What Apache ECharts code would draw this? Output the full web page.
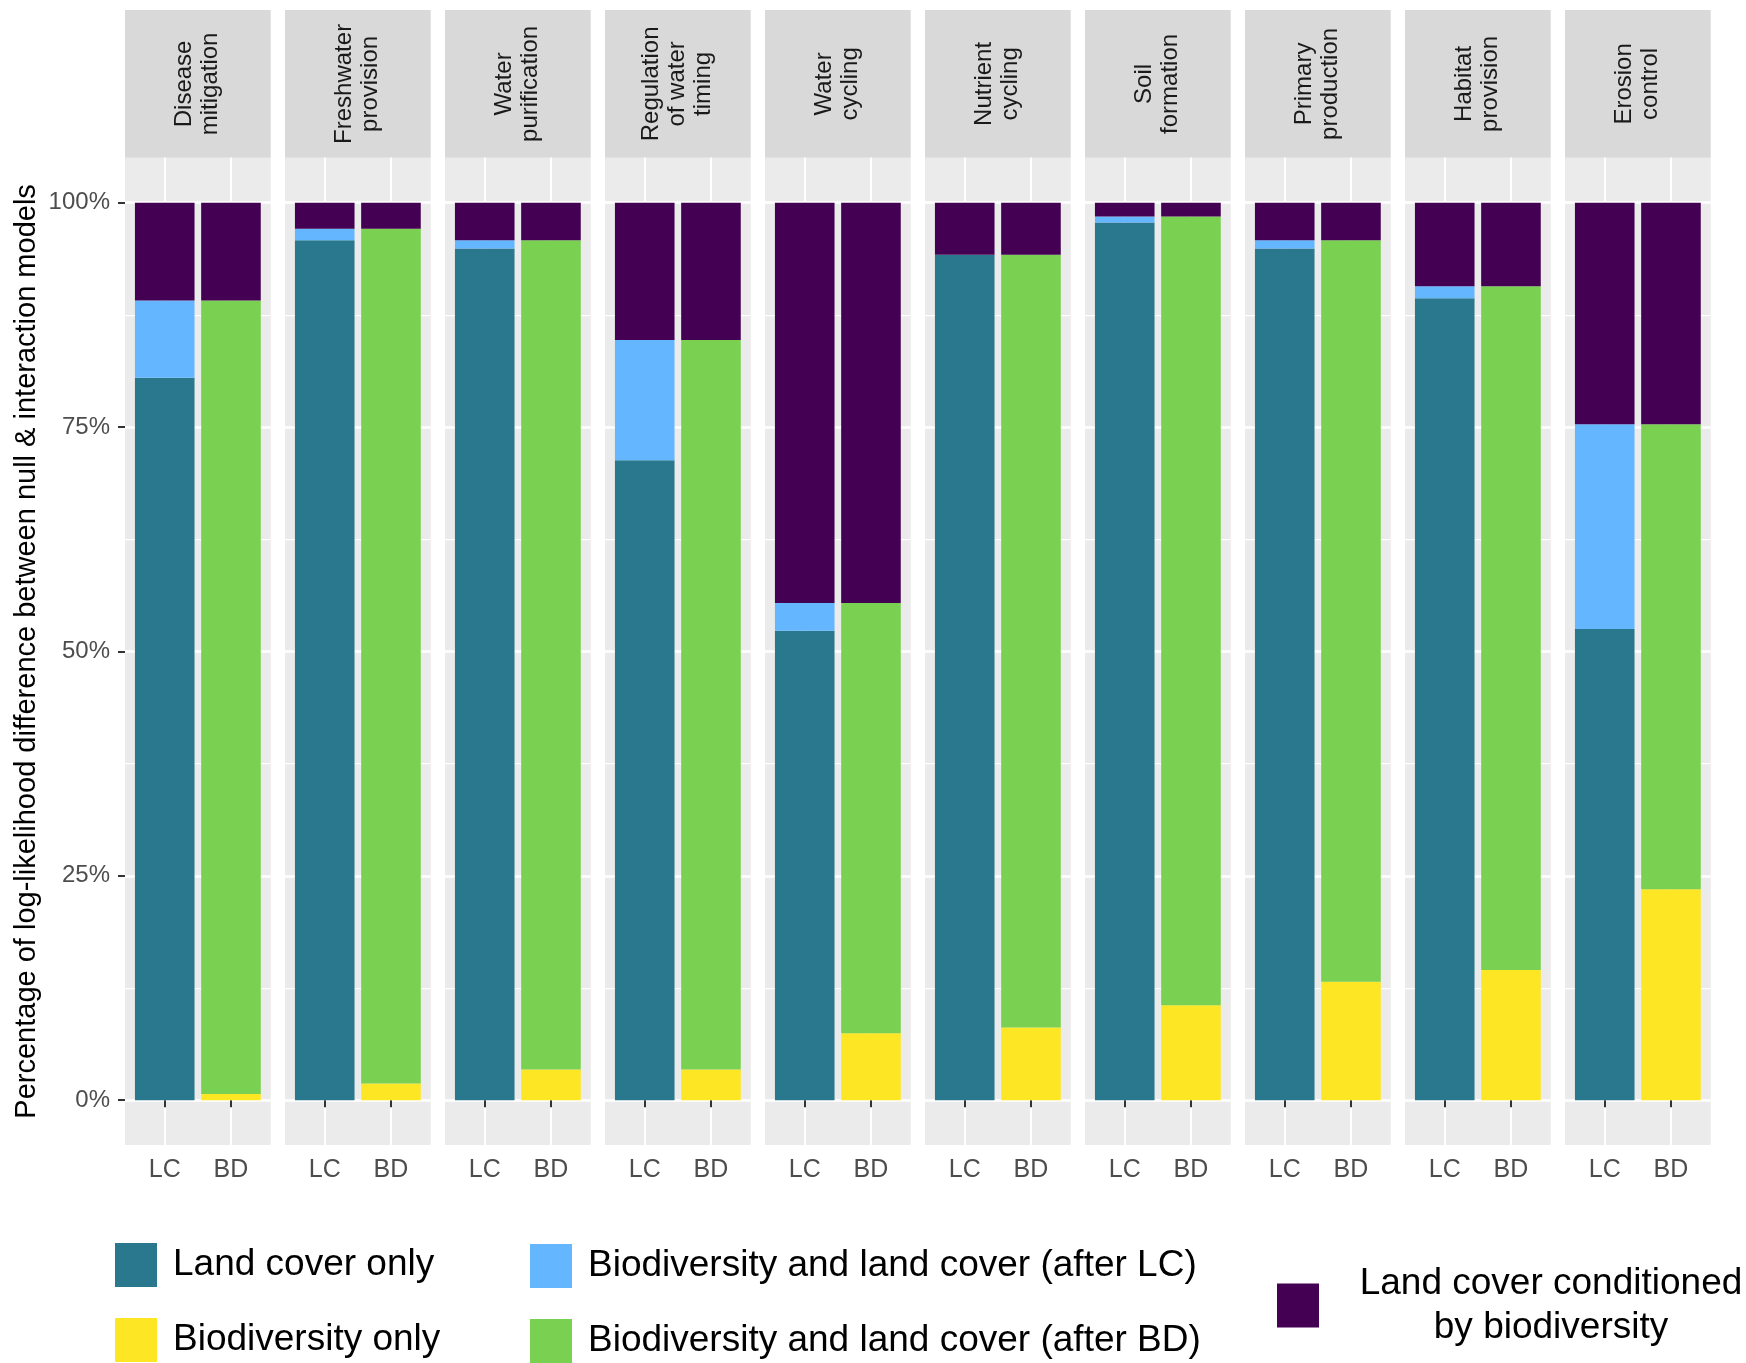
<!DOCTYPE html>
<html><head><meta charset="utf-8">
<script src="https://cdn.jsdelivr.net/npm/echarts@6/dist/echarts.min.js"></script>
<style>html,body{margin:0;padding:0;background:#fff}#c{width:1746px;height:1363px}</style>
</head><body><div id="c"></div>
<script>
// ---- data ----
const categories = ['Disease\nmitigation','Freshwater\nprovision','Water\npurification','Regulation\nof water\ntiming','Water\ncycling','Nutrient\ncycling','Soil\nformation','Primary\nproduction','Habitat\nprovision','Erosion\ncontrol'];
const barLabels = ['LC','BD'];
const landCoverOnly    = [80.5, 95.8, 94.9, 71.3, 52.3, 94.2, 97.8, 94.9, 89.35, 52.5];
const bioLandAfterLC   = [8.6, 1.3, 0.9, 13.4, 3.1, 0, 0.65, 0.9, 1.35, 22.8];
const biodiversityOnly = [0.67, 1.86, 3.42, 3.42, 7.44, 8.1, 10.57, 13.2, 14.5, 23.5];
const bioLandAfterBD   = [88.43, 95.24, 92.38, 81.28, 47.96, 86.1, 87.88, 82.6, 76.2, 51.8];
const conditioned      = [10.9, 2.9, 4.2, 15.3, 44.6, 5.8, 1.55, 4.2, 9.3, 24.7];
const yTicks = [0, 25, 50, 75, 100];
const yMinorTicks = [12.5, 37.5, 62.5, 87.5];
const seriesNames = ['Land cover only','Biodiversity only','Biodiversity and land cover (after LC)','Biodiversity and land cover (after BD)','Land cover conditioned by biodiversity'];
const seriesColors = ['#2A788E','#FDE725','#64B6FF','#7AD151','#440154'];

// ---- layout ----
const FONT = "'Liberation Sans', Arial, Helvetica, sans-serif";
const PANEL_LEFT0 = 125, PANEL_STEP = 160, PANEL_W = 145.7;
const PANEL_TOP = 157.8, PANEL_H = 987.2, STRIP_TOP = 10;
const UNIT = PANEL_W / 2.2;           // one discrete x step (ggplot expansion 0.6 each side)
const N = categories.length;

const grids = [], xAxes = [], yAxes = [], series = [], graphics = [];
// background panels (grey, white grid lines spanning the whole panel)
categories.forEach((cat, i) => {
  const left = PANEL_LEFT0 + PANEL_STEP * i;
  grids.push({left: left, top: PANEL_TOP, width: PANEL_W, height: PANEL_H, show: true,
    backgroundColor: '#EBEBEB', borderWidth: 0, z: 0});
  xAxes.push({type: 'value', gridIndex: i, min: 0.4, max: 2.6,
    axisLine: {show: false}, axisTick: {show: false, customValues: [1, 2]},
    axisLabel: {show: false, customValues: [1, 2]},
    splitLine: {show: true, lineStyle: {color: '#FFFFFF', width: 2}}});
  graphics.push({type: 'rect', shape: {x: left, y: STRIP_TOP, width: PANEL_W, height: PANEL_TOP - STRIP_TOP},
    style: {fill: '#D9D9D9'}, silent: true});
  graphics.push({type: 'text', x: left + PANEL_W / 2, y: (STRIP_TOP + PANEL_TOP) / 2, rotation: Math.PI / 2,
    style: {text: cat, align: 'center', verticalAlign: 'middle', fontSize: 24, lineHeight: 26,
      fontFamily: FONT, fill: '#1A1A1A'}, silent: true});
});
categories.forEach((cat, i) => {
  yAxes.push({type: 'value', gridIndex: i, min: -5, max: 105, position: 'left',
    axisLine: {show: false},
    axisTick: {show: i === 0, customValues: yTicks, length: 7, lineStyle: {color: '#333333', width: 2}},
    axisLabel: {show: i === 0, customValues: yTicks, formatter: '{value}%',
      color: '#4D4D4D', fontSize: 24, fontFamily: FONT, margin: 15},
    splitLine: {show: true, lineStyle: {color: '#FFFFFF', width: 2.5}},
    name: i === 0 ? 'Percentage of log-likelihood difference between null & interaction models' : '',
    nameLocation: 'middle', nameRotate: 90, nameGap: 84,
    nameTextStyle: {fontSize: 29, fontFamily: FONT, color: '#000000'}});
});
categories.forEach((cat, i) => {
  yAxes.push({type: 'value', gridIndex: i, min: -5, max: 105, position: 'left',
    axisLine: {show: false},
    axisTick: {show: false, customValues: yMinorTicks},
    axisLabel: {show: false, customValues: yMinorTicks},
    splitLine: {show: true, lineStyle: {color: '#FFFFFF', width: 1.25}}});
});
// data grids: two category bands of one unit each, centred on the discrete positions
categories.forEach((cat, i) => {
  const left = PANEL_LEFT0 + PANEL_STEP * i + 0.1 * UNIT;
  grids.push({left: left, top: PANEL_TOP, width: 2 * UNIT, height: PANEL_H, show: false});
  xAxes.push({type: 'category', gridIndex: N + i, data: barLabels,
    axisLine: {show: false},
    axisTick: {show: true, alignWithLabel: true, length: 7, lineStyle: {color: '#333333', width: 2}},
    axisLabel: {color: '#4D4D4D', fontSize: 25, fontFamily: FONT, margin: 13},
    splitLine: {show: false}});
  yAxes.push({type: 'value', gridIndex: N + i, min: -5, max: 105,
    axisLine: {show: false}, axisTick: {show: false}, axisLabel: {show: false}, splitLine: {show: false}});

  const lcVals = [landCoverOnly[i], 0, bioLandAfterLC[i], 0, conditioned[i]];
  const bdVals = [0, biodiversityOnly[i], 0, bioLandAfterBD[i], conditioned[i]];
  seriesNames.forEach((nm, k) => {
    series.push({name: nm, type: 'bar', stack: 'p' + i, xAxisIndex: N + i, yAxisIndex: 2 * N + i,
      barWidth: '90%', itemStyle: {color: seriesColors[k]}, emphasis: {disabled: true},
      data: [lcVals[k], bdVals[k]]});
  });
});

const legendBase = {orient: 'vertical', padding: 0, itemWidth: 42, itemHeight: 44, itemGap: 31,
  icon: 'rect', selectedMode: false,
  textStyle: {fontSize: 37, fontFamily: FONT, color: '#000000', padding: [0, 0, 0, 11]}};

const option = {
  animation: false,
  backgroundColor: '#FFFFFF',
  grid: grids, xAxis: xAxes, yAxis: yAxes, series: series,
  graphic: graphics,
  legend: [
    Object.assign({}, legendBase, {left: 115, top: 1243, data: [seriesNames[0], seriesNames[1]]}),
    Object.assign({}, legendBase, {left: 530, top: 1244, data: [seriesNames[2], seriesNames[3]]}),
    Object.assign({}, legendBase, {left: 1277, top: 1265, data: [seriesNames[4]],
      formatter: () => '{a|Land cover conditioned}\n{a|by biodiversity}',
      textStyle: {fontSize: 37, fontFamily: FONT, color: '#000000', padding: [0, 0, 0, 12],
        rich: {a: {fontSize: 37, fontFamily: FONT, color: '#000000', width: 430, align: 'center', lineHeight: 44}}}})
  ]
};
const chart = echarts.init(document.getElementById('c'), null, {renderer: 'canvas'});
chart.setOption(option);
</script></body></html>
